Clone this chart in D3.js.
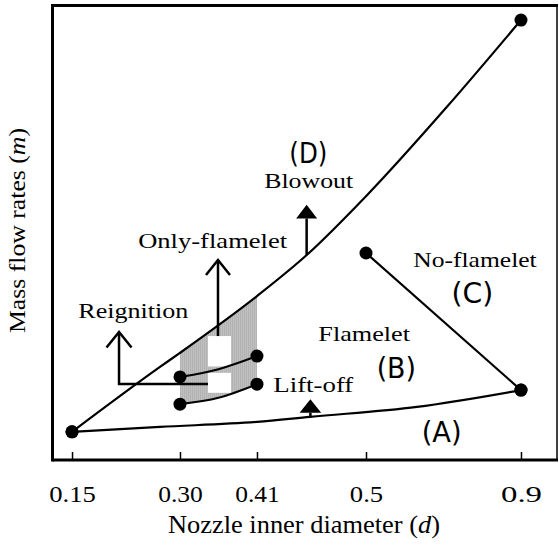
<!DOCTYPE html>
<html><head><meta charset="utf-8">
<script src="https://cdn.jsdelivr.net/npm/d3@7"></script>
<style>body{margin:0;background:#fff} text{font-family:"Liberation Serif",serif}</style>
</head><body><svg id="c" width="559" height="547"></svg>
<script>
// ---- data ----
const tickValues = [0.15, 0.30, 0.41, 0.5, 0.9];
const tickLabels = ["0.15", "0.30", "0.41", "0.5", "0.9"];
const blowoutD = [0.15, 0.2722, 0.30, 0.41, 0.4513, 0.5, 0.709, 0.9];
const blowoutM = [6.2, 20.5, 23.6, 36.1, 45.2, 58.1, 77.8, 96.9];
const liftoffD = [0.15, 0.2722, 0.41, 0.4538, 0.6316, 0.9];
const liftoffM = [6.2, 7.3, 8.4, 9.5, 11.7, 15.4];
const noFlameletD = [0.5, 0.9];
const noFlameletM = [45.6, 15.4];
const upperD = [0.30, 0.355, 0.41];
const upperM = [18.3, 20.0, 22.9];
const lowerD = [0.30, 0.355, 0.41];
const lowerM = [12.3, 13.7, 16.7];

// ---- layout ----
const L = 52.5, R = 557, T = 5.5, B = 460;
const tickFrac = [0.0387, 0.2527, 0.4053, 0.6214, 0.9286];
const x = d3.scaleLinear().domain(tickValues).range(tickFrac.map(f => L + f * (R - L)));
const y = d3.scaleLinear().domain([0, 100]).range([B, 6]);

const svg = d3.select("#c");
const serif = "Liberation Serif";
const cond = "DejaVu Sans Condensed";

const defs = svg.append("defs");
const pat = defs.append("pattern").attr("id", "hatch").attr("patternUnits", "userSpaceOnUse")
  .attr("width", 2).attr("height", 2);
pat.append("rect").attr("width", 2).attr("height", 2).attr("fill", "#c0c0c0");
pat.append("rect").attr("width", 1).attr("height", 2).attr("fill", "#b2b2b2");

const pts = (ds, ms) => ds.map((d, i) => [d, ms[i]]);
const line = d3.line().x(p => x(p[0])).y(p => y(p[1])).curve(d3.curveMonotoneX);
const lineLin = d3.line().x(p => x(p[0])).y(p => y(p[1]));

// gray region between blowout curve and lower curve, d in [0.30, 0.41]
const topPts = pts(blowoutD, blowoutM).filter(p => p[0] >= 0.30 && p[0] <= 0.41);
const botPts = pts(lowerD, lowerM).slice().reverse();
svg.append("path").attr("d", lineLin(topPts.concat(botPts)) + "Z").attr("fill", "url(#hatch)");

// white cut-outs
const cuts = [{d0: 0.340, d1: 0.3729, m0: 20.6, m1: 27.3}, {d0: 0.340, d1: 0.3729, m0: 14.8, m1: 19.2}];
cuts.forEach(c => svg.append("rect").attr("x", x(c.d0)).attr("y", y(c.m1))
  .attr("width", x(c.d1) - x(c.d0)).attr("height", y(c.m0) - y(c.m1)).attr("fill", "#fff"));

// curves
const series = [pts(blowoutD, blowoutM), pts(liftoffD, liftoffM), pts(noFlameletD, noFlameletM), pts(upperD, upperM), pts(lowerD, lowerM)];
series.forEach(s => {
  svg.append("path").attr("d", line(s)).attr("fill", "none").attr("stroke", "#000").attr("stroke-width", 2.2);
});

// annotation arrows
const stroke = (sel) => sel.attr("stroke", "#000").attr("stroke-width", 2.5).attr("fill", "none");
const rg = {d: 0.2153, m0: 16.74, m1: 28.2, dEnd: 0.3400};
stroke(svg.append("path").attr("d",
  `M${x(rg.dEnd)},${y(rg.m0)}L${x(rg.d)},${y(rg.m0)}L${x(rg.d)},${y(rg.m1)}`));
stroke(svg.append("path").attr("d",
  `M${x(rg.d) - 12.5},${y(rg.m1) + 15.5}L${x(rg.d)},${y(rg.m1)}L${x(rg.d) + 12.5},${y(rg.m1) + 15.5}`));
const of = {d: 0.3543, m0: 27.3, m1: 44.05};
stroke(svg.append("path").attr("d", `M${x(of.d)},${y(of.m0)}L${x(of.d)},${y(of.m1)}`));
stroke(svg.append("path").attr("d",
  `M${x(of.d) - 12},${y(of.m1) + 15}L${x(of.d)},${y(of.m1)}L${x(of.d) + 12},${y(of.m1) + 15}`));
const bo = {d: 0.451, m0: 45.15, m1: 53.2, mt: 56.2};
stroke(svg.append("path").attr("d", `M${x(bo.d)},${y(bo.m0)}L${x(bo.d)},${y(bo.m1)}`));
svg.append("path").attr("d", `M${x(bo.d)},${y(bo.mt)}L${x(bo.d) - 10.5},${y(bo.m1)}L${x(bo.d) + 10.5},${y(bo.m1)}Z`).attr("fill", "#000");
const lo = {d: 0.4541, m0: 9.54, m1: 10.4, mt: 13.37};
stroke(svg.append("path").attr("d", `M${x(lo.d)},${y(lo.m0)}L${x(lo.d)},${y(lo.m1)}`));
svg.append("path").attr("d", `M${x(lo.d)},${y(lo.mt)}L${x(lo.d) - 10.8},${y(lo.m1)}L${x(lo.d) + 10.8},${y(lo.m1)}Z`).attr("fill", "#000");

// dots at curve endpoints
const dots = [];
series.forEach(s => { dots.push(s[0]); dots.push(s[s.length - 1]); });
svg.selectAll("circle.dot").data(dots).join("circle").attr("class", "dot")
  .attr("cx", p => x(p[0])).attr("cy", p => y(p[1])).attr("r", 6.5).attr("fill", "#000");

// frame / axes
const xAxis = d3.axisBottom(x).tickValues(tickValues).tickFormat((d, i) => tickLabels[i])
  .tickSizeInner(-8).tickSizeOuter(0);
const gx = svg.append("g").attr("transform", `translate(0,${B})`).call(xAxis);
gx.attr("font-family", null).attr("font-size", null);
gx.select(".domain").remove();
gx.selectAll(".tick line").attr("stroke", "#000").attr("stroke-width", 1.5);
const tickLen = [46.6, 44.7, 44.5, 33.3, 41];
gx.selectAll(".tick text").attr("y", 42).attr("dy", 0).attr("fill", "#000")
  .style("font-family", serif).style("font-size", "24px")
  .attr("textLength", (d, i) => tickLen[i]).attr("lengthAdjust", "spacingAndGlyphs");

svg.append("line").attr("x1", L).attr("x2", L).attr("y1", T - 1.5).attr("y2", B + 1.5).attr("stroke", "#000").attr("stroke-width", 3);
svg.append("line").attr("x1", L).attr("x2", R + 1).attr("y1", B).attr("y2", B).attr("stroke", "#000").attr("stroke-width", 3);
svg.append("line").attr("x1", L).attr("x2", R + 1).attr("y1", T).attr("y2", T).attr("stroke", "#000").attr("stroke-width", 3);
svg.append("line").attr("x1", R).attr("x2", R).attr("y1", T).attr("y2", B).attr("stroke", "#000").attr("stroke-width", 1.5);

// axis titles
const xt = svg.append("text").attr("x", 304).attr("y", 533.3).attr("text-anchor", "middle")
  .style("font-family", serif).style("font-size", "25px").attr("textLength", 272).attr("lengthAdjust", "spacingAndGlyphs");
xt.append("tspan").text("Nozzle inner diameter (");
xt.append("tspan").attr("font-style", "italic").text("d");
xt.append("tspan").text(")");
const yt = svg.append("text").attr("transform", "translate(25,230.5) rotate(-90)").attr("text-anchor", "middle")
  .style("font-family", serif).style("font-size", "24px").attr("textLength", 205).attr("lengthAdjust", "spacingAndGlyphs");
yt.append("tspan").text("Mass flow rates (");
yt.append("tspan").attr("font-style", "italic").text("m");
yt.append("tspan").text(")");

// annotation labels
const labels = [
  {t: "Reignition", d: 0.2351, m: 31.2, len: 110, f: serif, s: 22},
  {t: "Only-flamelet", d: 0.3467, m: 46.6, len: 149, f: serif, s: 22},
  {t: "Blowout", d: 0.4527, m: 59.85, len: 89, f: serif, s: 22},
  {t: "No-flamelet", d: 0.7813, m: 42.58, len: 123.4, f: serif, s: 22},
  {t: "Flamelet", d: 0.4985, m: 26.2, len: 91.7, f: serif, s: 22},
  {t: "Lift-off", d: 0.4565, m: 15.04, len: 80, f: serif, s: 22},
  {t: "(A)", d: 0.6954, m: 4.03, len: 40, f: cond, s: 28},
  {t: "(B)", d: 0.5782, m: 18.0, len: 39.3, f: cond, s: 28},
  {t: "(C)", d: 0.7748, m: 34.5, len: 41.7, f: cond, s: 28},
  {t: "(D)", d: 0.4524, m: 65.35, len: 38, f: cond, s: 28}
];
svg.selectAll("text.lab").data(labels).join("text").attr("class", "lab")
  .attr("x", l => x(l.d)).attr("y", l => y(l.m)).attr("text-anchor", "middle")
  .style("font-family", l => l.f).style("font-size", l => l.s + "px")
  .attr("textLength", l => l.len).attr("lengthAdjust", "spacingAndGlyphs")
  .text(l => l.t);
</script>
</body></html>
